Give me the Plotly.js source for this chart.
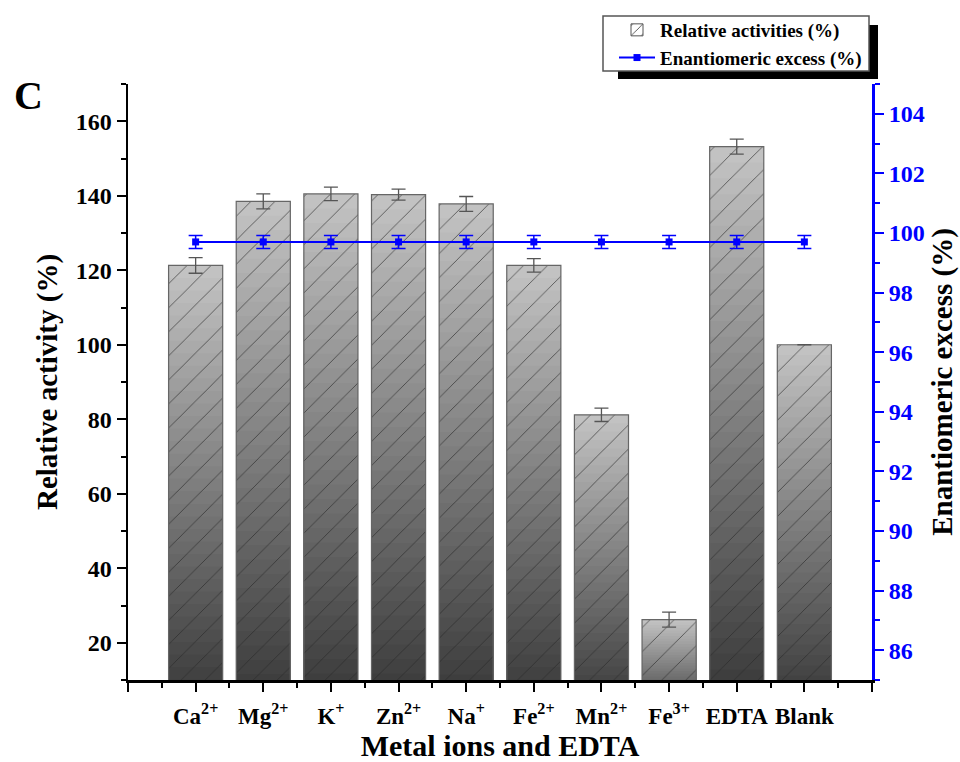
<!DOCTYPE html>
<html>
<head>
<meta charset="utf-8">
<script src="https://cdn.plot.ly/plotly-3.0.1.min.js"></script>
<style>html,body{margin:0;padding:0;background:#fff;}#chart{width:960px;height:762px;}</style>
</head>
<body>
<div id="chart"></div>
<script>
// ---- data ----
const categories = ['Ca<sup>2+</sup>', 'Mg<sup>2+</sup>', 'K<sup>+</sup>', 'Zn<sup>2+</sup>', 'Na<sup>+</sup>',
                    'Fe<sup>2+</sup>', 'Mn<sup>2+</sup>', 'Fe<sup>3+</sup>', 'EDTA', 'Blank'];
const relActivity = [121.3, 138.5, 140.5, 140.3, 137.8, 121.3, 81.2, 26.2, 153.2, 100.0];
const relActivityErr = [2.1, 2.0, 1.8, 1.5, 2.0, 1.8, 1.8, 2.0, 2.0, 0];
const eeValues = [99.7, 99.7, 99.7, 99.7, 99.7, 99.7, 99.7, 99.7, 99.7, 99.7];
const eeErr = [0.22, 0.22, 0.22, 0.22, 0.22, 0.22, 0.22, 0.22, 0.22, 0.22];
const barName = 'Relative activities (%)';
const lineName = 'Enantiomeric excess (%)';

// ---- build ----
const xIdx = categories.map((c, i) => i);
const FONT = 'Liberation Serif, Times New Roman, serif';
const traces = [];
const N = 36;
const cTop = 196, cBot = 52;
for (let k = 0; k < N; k++) {
  const frac = (N - k) / N;
  const t = (N - k - 0.5) / N;
  const g = Math.round(cBot + (cTop - cBot) * t);
  traces.push({
    type: 'bar', x: xIdx, y: relActivity.map(v => v * frac), base: 0,
    width: 0.8, marker: {color: `rgb(${g},${g},${g})`, line: {width: 0}},
    showlegend: false, hoverinfo: 'skip'
  });
}
// hatch + outline + error bars
traces.push({
  type: 'bar', x: xIdx, y: relActivity, base: 0, width: 0.8,
  marker: {color: 'rgba(0,0,0,0)', line: {color: '#666', width: 1.2},
           pattern: {shape: '/', fgcolor: 'rgba(40,40,40,0.75)', size: 17, solidity: 0.05}},
  error_y: {type: 'data', array: relActivityErr, visible: true, color: '#555', thickness: 1.3, width: 7},
  showlegend: false, hoverinfo: 'skip'
});
// legend entry for bars
traces.push({
  type: 'bar', x: [null], y: [null], name: barName,
  marker: {color: '#8a8a8a', line: {color: '#555', width: 1},
           pattern: {shape: '/', fgcolor: '#444', size: 9, solidity: 0.12}},
  showlegend: true
});
// EE line
traces.push({
  type: 'scatter', mode: 'lines+markers', x: xIdx, y: eeValues, yaxis: 'y2', name: lineName,
  line: {color: '#0000ff', width: 2}, marker: {symbol: 'square', size: 7, color: '#0000ff'},
  error_y: {type: 'data', array: eeErr, visible: true, color: '#0000ff', thickness: 1.5, width: 7},
  hoverinfo: 'skip'
});

// layout helpers (pixel -> paper)
const L = 128, R = 872, T = 83, B = 680;
const px = x => (x - L) / (R - L);
const py = y => (B - y) / (B - T);

const majorX = [-1].concat(xIdx, [10]);
const majorText = [''].concat(categories, ['']);
const minorX = majorX.slice(0, -1).map(v => v + 0.5);

const layout = {
  width: 960, height: 762,
  margin: {l: L, r: 960 - R, t: T, b: 762 - B},
  paper_bgcolor: '#fff', plot_bgcolor: '#fff',
  barmode: 'overlay', hovermode: false,
  font: {family: FONT, color: '#000'},
  xaxis: {
    range: [-1, 10], tickmode: 'array', tickvals: majorX, ticktext: majorText,
    ticks: 'outside', ticklen: 9, tickwidth: 2, tickcolor: '#000',
    showline: true, linecolor: '#000', linewidth: 2.5, showgrid: false, zeroline: false,
    tickfont: {family: FONT, size: 23, weight: 'bold', color: '#000'},
    ticklabelstandoff: 5,
    minor: {tickmode: 'array', tickvals: minorX, ticks: 'outside', ticklen: 5, tickwidth: 2, tickcolor: '#000'},
    title: {text: 'Metal ions and EDTA', font: {family: FONT, size: 30, weight: 'bold', color: '#000'}, standoff: 6}
  },
  yaxis: {
    range: [10, 170], tick0: 0, dtick: 20,
    ticks: 'outside', ticklen: 9, tickwidth: 2, tickcolor: '#000',
    showline: true, linecolor: '#000', linewidth: 2.5, showgrid: false, zeroline: false,
    tickfont: {family: FONT, size: 24, weight: 'bold', color: '#000'},
    minor: {dtick: 10, ticks: 'outside', ticklen: 5, tickwidth: 2, tickcolor: '#000'},
    title: {text: 'Relative activity (%)', font: {family: FONT, size: 29, weight: 'bold', color: '#000'}, standoff: 10}
  },
  yaxis2: {
    overlaying: 'y', side: 'right', range: [85, 105], tick0: 0, dtick: 2,
    ticks: 'outside', ticklen: 9, tickwidth: 2, tickcolor: '#0000ff',
    showline: true, linecolor: '#0000ff', linewidth: 3, showgrid: false, zeroline: false,
    tickfont: {family: FONT, size: 24, weight: 'bold', color: '#0000ff'},
    minor: {dtick: 1, ticks: 'outside', ticklen: 5, tickwidth: 2, tickcolor: '#0000ff'},
    title: {text: 'Enantiomeric excess (%)', font: {family: FONT, size: 29, weight: 'bold', color: '#000'}, standoff: 8}
  },
  legend: {
    x: px(614), y: py(11), xanchor: 'left', yanchor: 'top',
    bgcolor: 'rgba(0,0,0,0)', borderwidth: 0, traceorder: 'normal',
    font: {family: FONT, size: 19, weight: 'bold', color: '#000'},
    tracegroupgap: 0, itemwidth: 36
  },
  shapes: [
    {type: 'rect', xref: 'paper', yref: 'paper', x0: px(618), x1: px(878), y0: py(78), y1: py(24),
     fillcolor: '#000', line: {width: 0}, layer: 'above'},
    {type: 'rect', xref: 'paper', yref: 'paper', x0: px(603), x1: px(869), y0: py(70), y1: py(15),
     fillcolor: '#fff', line: {color: '#555', width: 1.5}, layer: 'above'}
  ],
  annotations: [
    {text: 'C', xref: 'paper', yref: 'paper', x: px(28), y: py(95), xanchor: 'center', yanchor: 'middle',
     showarrow: false, font: {family: FONT, size: 40, weight: 'bold', color: '#000'}}
  ]
};

Plotly.newPlot('chart', traces, layout, {displayModeBar: false, staticPlot: true});
</script>
</body>
</html>
